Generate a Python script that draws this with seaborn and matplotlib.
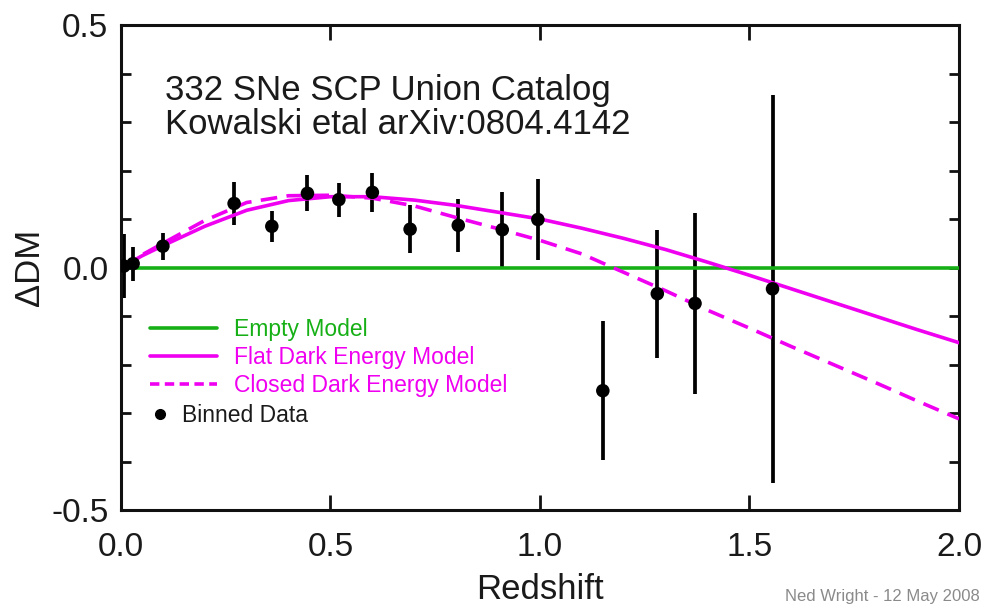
import matplotlib
matplotlib.use("Agg")
import matplotlib.pyplot as plt
from matplotlib.lines import Line2D
from matplotlib.ticker import MultipleLocator
import seaborn as sns

# binned Union data (redshift, delta distance modulus, 1-sigma error)
z_bin = [0.007, 0.029, 0.10, 0.27, 0.36, 0.445, 0.52, 0.60, 0.69, 0.805, 0.91, 0.995, 1.15, 1.28, 1.37, 1.555]
dm_bin = [0.003, 0.008, 0.044, 0.132, 0.085, 0.153, 0.140, 0.155, 0.079, 0.087, 0.078, 0.099, -0.254, -0.054, -0.074, -0.044]
dm_err = [0.066, 0.035, 0.028, 0.045, 0.032, 0.037, 0.035, 0.040, 0.050, 0.054, 0.078, 0.084, 0.143, 0.132, 0.186, 0.400]

# model curves
z_empty = [0.0, 2.0]
dm_empty = [0.0, 0.0]

z_model = [0.0, 0.05, 0.1, 0.2, 0.3, 0.4, 0.5, 0.6, 0.7, 0.8, 0.9, 1.0,
           1.1, 1.2, 1.3, 1.4, 1.5, 1.6, 1.7, 1.8, 1.9, 2.0]
dm_flat = [0.0, 0.024, 0.045, 0.085, 0.118, 0.138, 0.146, 0.146, 0.139, 0.128, 0.114, 0.100,
           0.081, 0.060, 0.037, 0.011, -0.016, -0.044, -0.072, -0.100, -0.128, -0.155]
dm_closed = [0.0, 0.026, 0.050, 0.097, 0.134, 0.148, 0.149, 0.143, 0.127, 0.103, 0.080, 0.056,
             0.028, -0.010, -0.048, -0.088, -0.125, -0.163, -0.200, -0.237, -0.275, -0.312]

green = "#16b016"
magenta = "#f000f0"

sns.set_style("ticks")
plt.rcParams["font.family"] = ["Liberation Sans", "DejaVu Sans"]

fig = plt.figure(figsize=(9.86, 6.10), dpi=100)
ax = fig.add_axes([0.1227, 0.1639, 0.8499, 0.7951])

# error bars first, then model curves, then the points on top
ax.errorbar(z_bin, dm_bin, yerr=dm_err, fmt="none", ecolor="black", elinewidth=2.7, capsize=0, zorder=2)
sns.lineplot(x=z_empty, y=dm_empty, color=green, linewidth=2.6, ax=ax, zorder=3)
sns.lineplot(x=z_model, y=dm_flat, color=magenta, linewidth=2.6, ax=ax, zorder=3)
sns.lineplot(x=z_model, y=dm_closed, color=magenta, linewidth=2.6, ax=ax, zorder=3)
ax.lines[-1].set_dashes((4.6, 2.6))
sns.scatterplot(x=z_bin, y=dm_bin, color="black", s=95, edgecolor="none", ax=ax, zorder=4)

ax.set_xlim(0, 2.0)
ax.set_ylim(-0.5, 0.5)
ax.xaxis.set_major_locator(MultipleLocator(0.5))
ax.yaxis.set_major_locator(MultipleLocator(0.5))
ax.yaxis.set_minor_locator(MultipleLocator(0.1))
ax.xaxis.set_major_formatter(matplotlib.ticker.FormatStrFormatter("%.1f"))
ax.yaxis.set_major_formatter(matplotlib.ticker.FormatStrFormatter("%.1f"))
ax.tick_params(axis="both", which="both", direction="in", top=True, right=True,
               width=2.0, color="#111111", labelsize=24, labelcolor="#1a1a1a")
ax.tick_params(axis="x", which="major", length=11, pad=16)
ax.tick_params(axis="y", which="major", length=7, pad=9)
ax.tick_params(axis="y", which="minor", length=7)
for sp in ax.spines.values():
    sp.set_linewidth(2.2)
    sp.set_color("#111111")

ax.set_xlabel("Redshift", fontsize=25, color="#1a1a1a", labelpad=7)
ax.set_ylabel("\u0394DM", fontsize=25, color="#1a1a1a", labelpad=4)

ax.text(0.053, 0.9, "332 SNe SCP Union Catalog\nKowalski etal arXiv:0804.4142",
        transform=ax.transAxes, fontsize=25, color="#1a1a1a", va="top", ha="left",
        linespacing=1.07)

line_handles = [
    Line2D([], [], color=green, linewidth=2.6),
    Line2D([], [], color=magenta, linewidth=2.6),
    Line2D([], [], color=magenta, linewidth=2.6, dashes=(2.6, 1.5)),
]
leg1 = ax.legend(line_handles, ["Empty Model", "Flat Dark Energy Model", "Closed Dark Energy Model"],
                 loc="upper left", bbox_to_anchor=(0.024, 0.415), frameon=False, fontsize=16.5,
                 handlelength=2.9, handletextpad=0.75, labelspacing=0.22,
                 labelcolor=[green, magenta, magenta], borderaxespad=0)
ax.add_artist(leg1)
dot = Line2D([], [], color="black", marker="o", linestyle="none", markersize=7)
ax.legend([dot], ["Binned Data"], loc="upper left", bbox_to_anchor=(0.022, 0.237),
          frameon=False, fontsize=16.5, handlelength=1.0, handletextpad=0.45,
          labelcolor="#1a1a1a", borderaxespad=0)

fig.text(0.994, 0.010, "Ned Wright - 12 May 2008", fontsize=12, color="#8a8a8a",
         ha="right", va="bottom")

fig.savefig("out.png", dpi=100)
